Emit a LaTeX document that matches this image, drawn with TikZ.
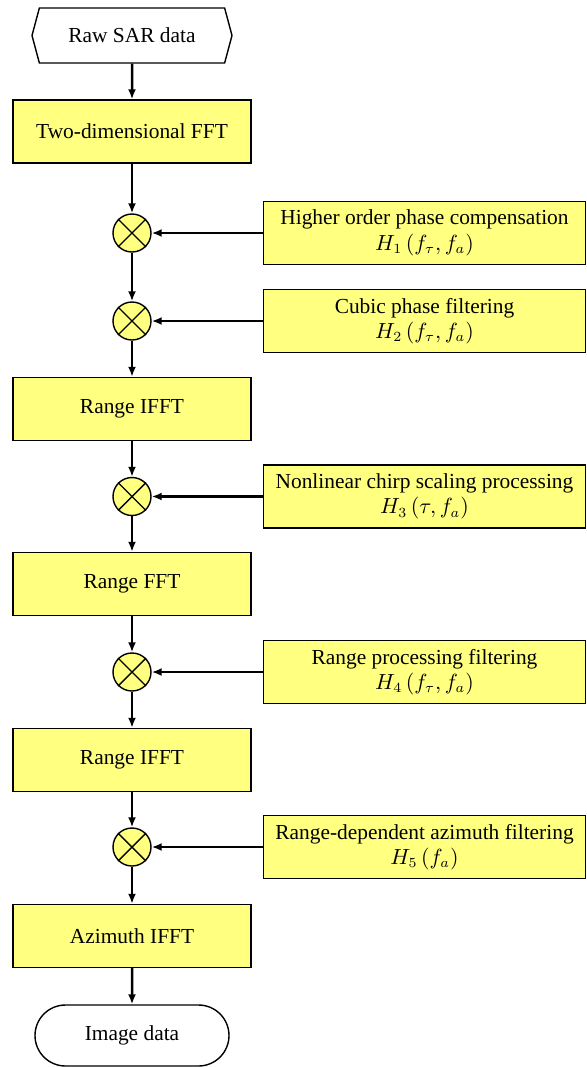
\documentclass[tikz,border=0pt]{standalone}
\usepackage{fontspec}
\setmainfont{Liberation Serif}
\usetikzlibrary{shapes.symbols,shapes.misc,arrows.meta}
\definecolor{boxyellow}{RGB}{255,255,128}
\tikzset{
  procbox/.style={draw, fill=boxyellow, line width=0.7pt, minimum width=119pt, minimum height=31.5pt, inner sep=0pt, font=\fontsize{10.7}{12.8}\selectfont},
  filtbox/.style={procbox, minimum width=161pt, align=center},
  termbox/.style={procbox, fill=white},
  mult/.style={draw, circle, fill=boxyellow, line width=0.7pt, minimum size=19pt, inner sep=0pt},
  flow/.style={-{Latex[length=5pt,width=4pt]}, line width=1.25pt},
}
\begin{document}
\begin{tikzpicture}[x=0.5pt, y=-0.5pt]
\useasboundingbox (0,0) rectangle (586,1067);
% main chain
\node[termbox, signal, signal to=west and east, signal pointer angle=150, minimum width=100pt, minimum height=27.5pt] (raw) at (132,35.5) {Raw SAR data};
\node[procbox] (fft2) at (132,131.5) {Two-dimensional FFT};
\node[mult] (m1) at (132,233) {};
\node[mult] (m2) at (132,321) {};
\node[procbox] (rifft1) at (132,409) {Range IFFT};
\node[mult] (m3) at (132,496.5) {};
\node[procbox] (rfft) at (132,584) {Range FFT};
\node[mult] (m4) at (132,672) {};
\node[procbox] (rifft2) at (132,760) {Range IFFT};
\node[mult] (m5) at (132,847) {};
\node[procbox] (aifft) at (132,936) {Azimuth IFFT};
\node[termbox, rounded rectangle, minimum width=97pt, minimum height=30.5pt] (img) at (132,1035.5) {Image data};
% filters
\node[filtbox] (h1) at (424.5,233) {Higher order phase compensation\\$H_1\left(f_\tau,f_a\right)$};
\node[filtbox] (h2) at (424.5,321) {Cubic phase filtering\\$H_2\left(f_\tau,f_a\right)$};
\node[filtbox] (h3) at (424.5,496.5) {Nonlinear chirp scaling processing\\$H_3\left(\tau,f_a\right)$};
\node[filtbox] (h4) at (424.5,672) {Range processing filtering\\$H_4\left(f_\tau,f_a\right)$};
\node[filtbox] (h5) at (424.5,847) {Range-dependent azimuth filtering\\$H_5\left(f_a\right)$};
% crosses
\foreach \m in {m1,m2,m3,m4,m5}
  \draw[line width=0.7pt] (\m.45) -- (\m.225) (\m.135) -- (\m.315);
% arrows
\foreach \a/\b in {raw/fft2, fft2/m1, m1/m2, m2/rifft1, rifft1/m3, m3/rfft, rfft/m4, m4/rifft2, rifft2/m5, m5/aifft, aifft/img}
  \draw[flow] (\a) -- (\b);
\foreach \i in {1,...,5}
  \draw[flow] (h\i) -- (m\i);
\end{tikzpicture}
\end{document}
